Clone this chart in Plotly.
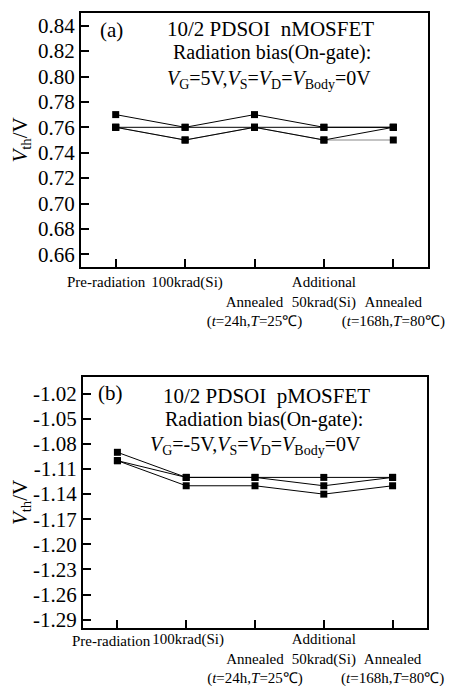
import plotly.graph_objects as go

# ---------------- data ----------------
categories = ["pre", "100k", "ann24", "add50k", "ann168"]
first_label = "Pre-radiation"
tick_labels = [
    "",
    "\u00a0100krad(Si)",
    "\u00a0<br>Annealed<br>(<i>t</i>=24h,<i>T</i>=25\u2103)",
    "Additional<br>50krad(Si)",
    "\u00a0<br>Annealed<br>(<i>t</i>=168h,<i>T</i>=80\u2103)",
]

# panel (a) nMOSFET threshold voltage (V)
n_s1 = [0.77, 0.76, 0.77, 0.76, 0.76]
n_s2 = [0.76, 0.76, 0.76, 0.76, 0.76]
n_s3 = [0.76, 0.75, 0.76, 0.75, 0.76]
n_s4 = [0.76, 0.75, 0.76, 0.75, 0.75]

# panel (b) pMOSFET threshold voltage (V)
p_s1 = [-1.09, -1.12, -1.12, -1.12, -1.12]
p_s2 = [-1.10, -1.12, -1.12, -1.13, -1.12]
p_s3 = [-1.10, -1.13, -1.13, -1.14, -1.13]

n_yticks = [0.66, 0.68, 0.70, 0.72, 0.74, 0.76, 0.78, 0.80, 0.82, 0.84]
p_yticks = [-1.29, -1.26, -1.23, -1.20, -1.17, -1.14, -1.11, -1.08, -1.05, -1.02]

# ---------------- figure ----------------
FONT = "Liberation Serif"
OFF = 8                      # page body margin of the browser
W, H = 459 - OFF, 686 - OFF
fig = go.Figure()


def px_x(x):
    return (x - OFF) / W


def px_y(y):
    return 1 - (y - OFF) / H


def add_series(y, xa, ya, color="black"):
    fig.add_trace(go.Scatter(
        x=categories, y=y, xaxis=xa, yaxis=ya, mode="lines+markers",
        line=dict(color=color, width=1),
        marker=dict(symbol="square", size=7, color="black"),
        showlegend=False, hoverinfo="skip"))


add_series(n_s4, "x", "y", color="#888888")
for s in (n_s1, n_s2, n_s3):
    add_series(s, "x", "y")
for s in (p_s1, p_s2, p_s3):
    add_series(s, "x2", "y2")

axis_common = dict(
    showline=True, linecolor="black", linewidth=2, mirror=True,
    ticks="inside", ticklen=8, tickwidth=1.5, tickcolor="black",
    showgrid=False, zeroline=False, automargin=False,
)

xtick_font = dict(size=15, family=FONT, color="black")
ytick_font = dict(size=21, family=FONT, color="black")
ytitle = dict(text="<i>V</i><sub>th</sub>/V", font=dict(size=21, family=FONT, color="black"), standoff=9)

fig.update_layout(
    template="none",
    width=W, height=H,
    margin=dict(l=0, r=0, t=0, b=0),
    paper_bgcolor="white", plot_bgcolor="white",
    font=dict(family=FONT, color="black"),
    xaxis=dict(domain=[px_x(81), px_x(428)], anchor="y", type="category",
               categoryorder="array", categoryarray=categories,
               range=[-0.5, 4.5], tickvals=categories, ticktext=tick_labels,
               tickangle=0, tickfont=xtick_font, ticklabelstandoff=0, **axis_common),
    yaxis=dict(domain=[px_y(267), px_y(13)], anchor="x",
               range=[0.65, 0.85], tickvals=n_yticks,
               ticktext=[f"{v:.2f}" for v in n_yticks],
               tickfont=ytick_font, title=ytitle, **axis_common),
    xaxis2=dict(domain=[px_x(83), px_x(427)], anchor="y2", type="category",
                categoryorder="array", categoryarray=categories,
                range=[-0.5, 4.5], tickvals=categories, ticktext=tick_labels,
                tickangle=0, tickfont=xtick_font, ticklabelstandoff=-4, **axis_common),
    yaxis2=dict(domain=[px_y(628), px_y(377)], anchor="x2",
                range=[-1.30, -1.00], tickvals=p_yticks,
                ticktext=[f"{v:.2f}" for v in p_yticks],
                tickfont=ytick_font, title=ytitle, **axis_common),
)


def ann(text, x, y, size=21, xanchor="center"):
    fig.add_annotation(text=text, x=px_x(x), y=px_y(y), xref="paper", yref="paper",
                       xanchor=xanchor, yanchor="middle", showarrow=False,
                       font=dict(size=size, family=FONT, color="black"))


# first category label sits left of its tick, as in the original
ann(first_label, 106, 282, size=15)
ann(first_label, 111, 641, size=15)

ann("(a)", 98, 30, xanchor="left")
ann("10/2 PDSOI  nMOSFET", 270, 29)
ann("Radiation bias(On-gate):", 272, 53, size=20)
ann("<i>V</i><sub>G</sub>=5V,<i>V</i><sub>S</sub>=<i>V</i><sub>D</sub>=<i>V</i><sub>Body</sub>=0V", 269, 80, size=20)

ann("(b)", 96, 393, xanchor="left")
ann("10/2 PDSOI  pMOSFET", 266, 396)
ann("Radiation bias(On-gate):", 264, 419, size=20)
ann("<i>V</i><sub>G</sub>=-5V,<i>V</i><sub>S</sub>=<i>V</i><sub>D</sub>=<i>V</i><sub>Body</sub>=0V", 255, 445, size=20)

fig.write_html("out.html")
